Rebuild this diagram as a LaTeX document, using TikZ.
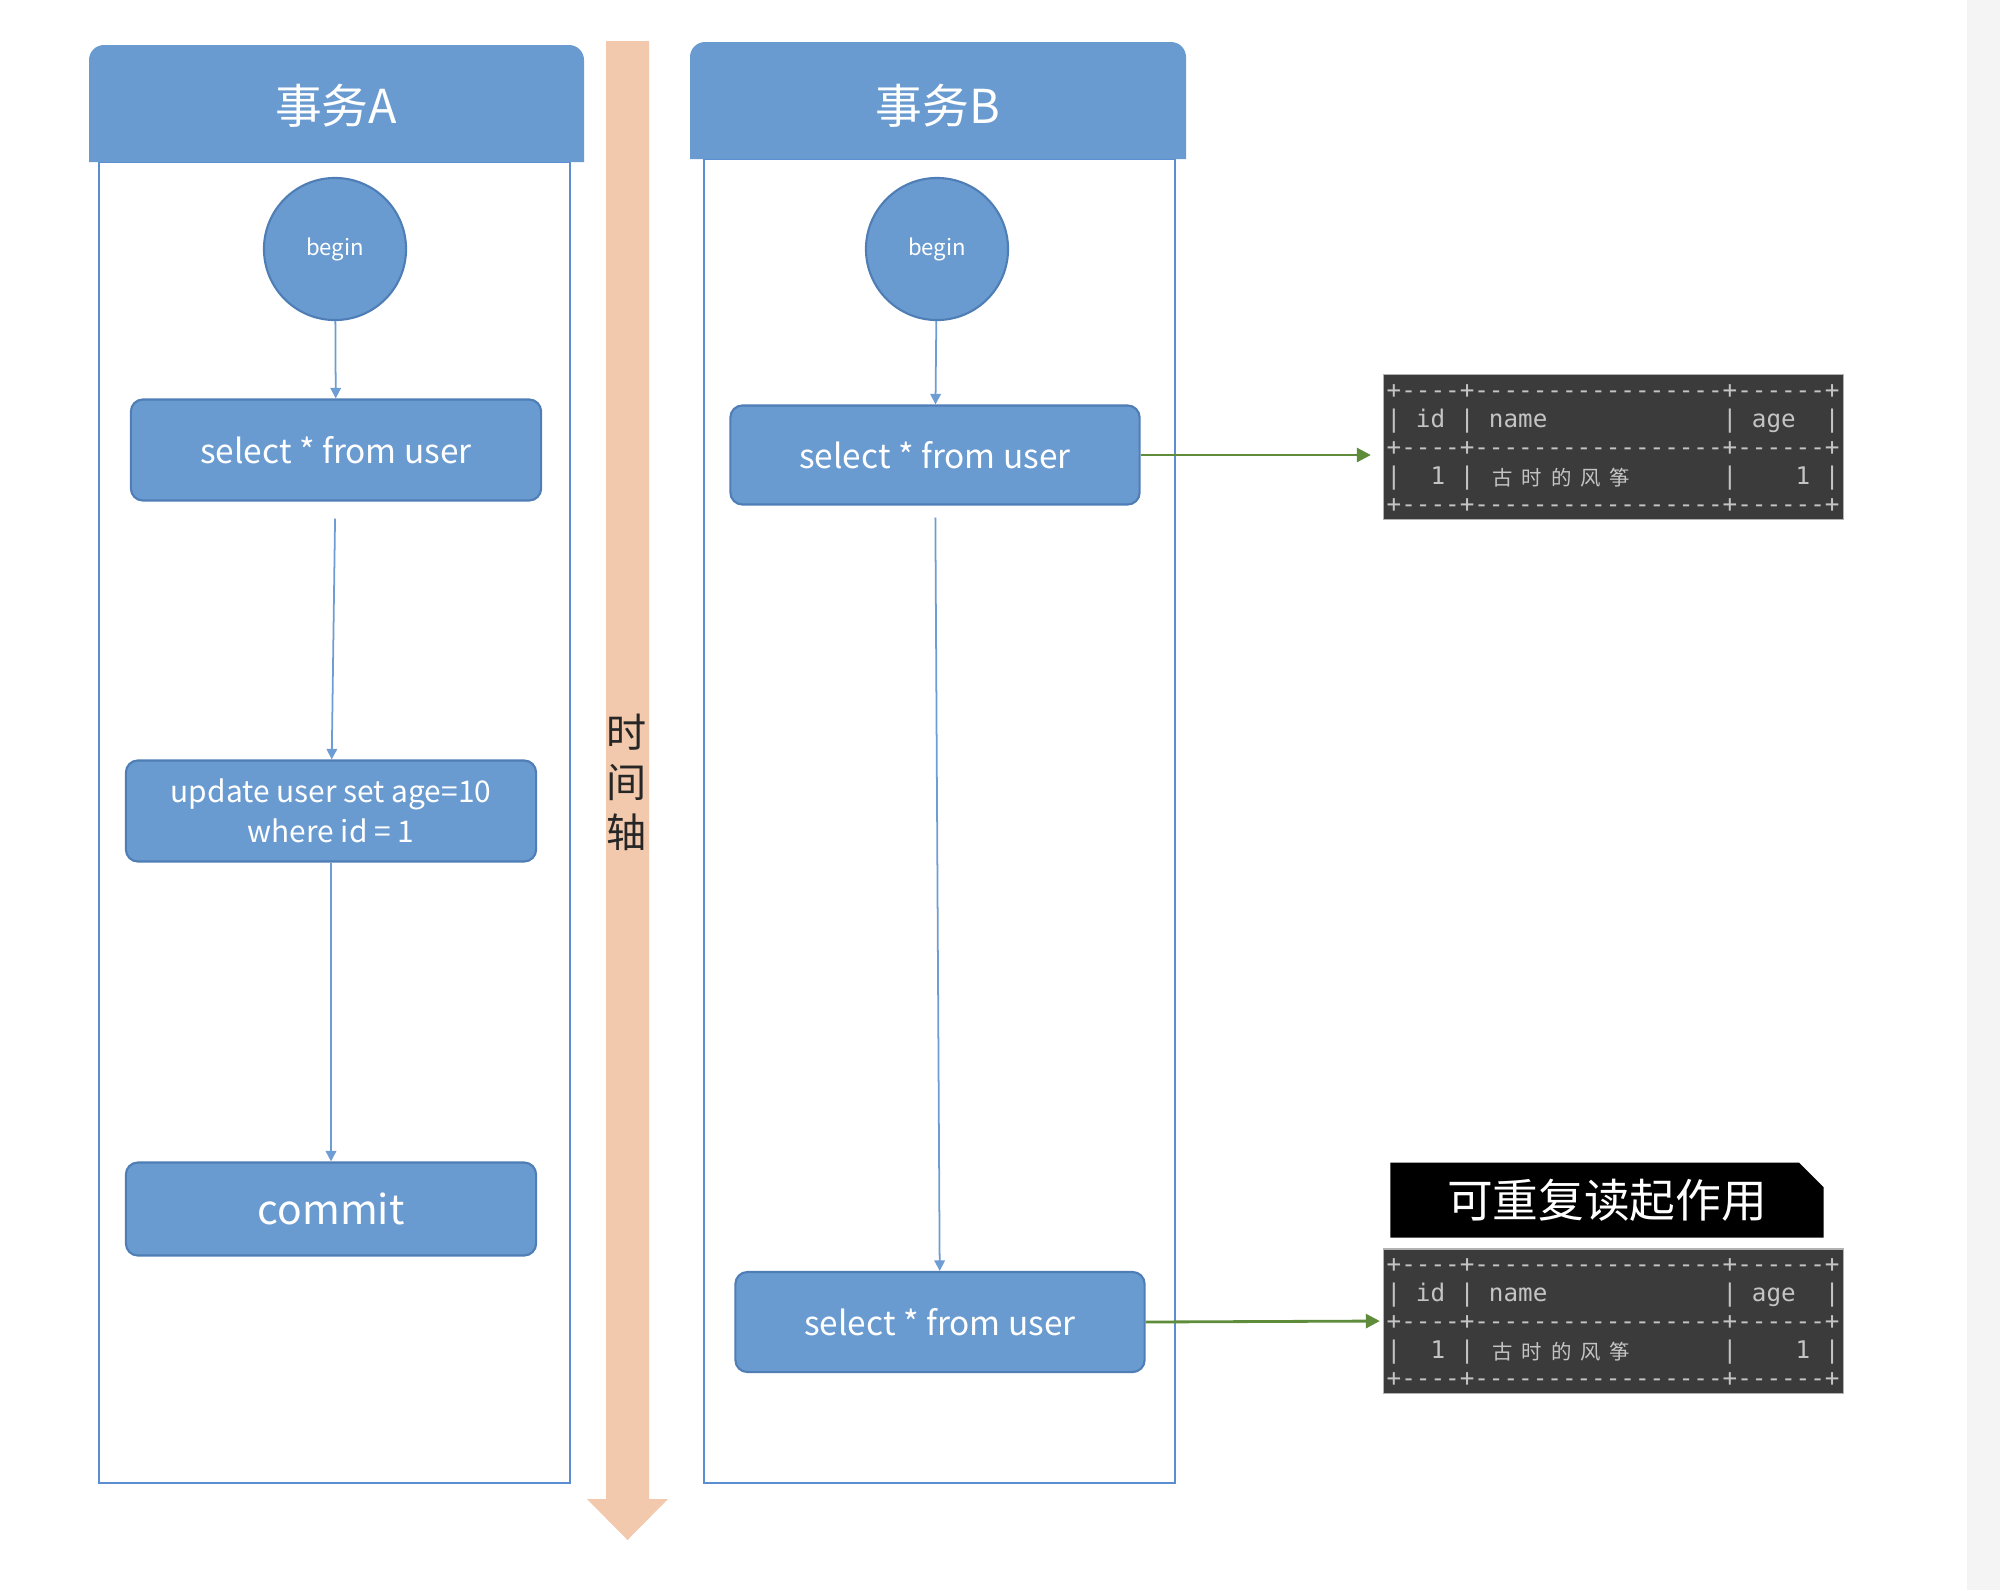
\documentclass[tikz,border=0pt]{standalone}
\usepackage{fontspec}
\setmainfont{Noto Sans CJK SC}
\setmonofont{DejaVu Sans Mono}
\usetikzlibrary{arrows.meta,shapes.misc}

\definecolor{boxblue}{HTML}{6A9BD0}
\definecolor{boxedge}{HTML}{4F7DB5}
\definecolor{laneedge}{HTML}{5B8ED0}
\definecolor{lineblue}{HTML}{6D9DD3}
\definecolor{timepeach}{HTML}{F2C9AC}
\definecolor{sqlbg}{HTML}{3B3B3B}
\definecolor{sqlgray}{HTML}{C4C4C4}
\definecolor{resgreen}{HTML}{5E8C3A}
\definecolor{stripgray}{HTML}{F4F4F4}

\begin{document}
\begin{tikzpicture}[x=0.01cm, y=-0.01cm,
   opbox/.style={draw=boxedge, fill=boxblue, rounded corners=0.12cm, text=white,
     minimum width=4.1cm, minimum height=1cm, line width=0.6pt, align=center,
     font=\fontsize{9.5}{11.3}\selectfont},
   startnode/.style={draw=boxedge, fill=boxblue, circle, minimum size=1.42cm,
     text=white, line width=0.6pt, font=\fontsize{6.3}{7}\selectfont},
   flow/.style={draw=lineblue, line width=0.5pt, -{Triangle[length=3pt,width=3pt]}},
   result/.style={draw=resgreen, line width=0.8pt, -{Triangle[length=4pt,width=4pt]}},
   sqltable/.style={fill=sqlbg, draw=gray!60, line width=0.3pt, minimum width=4.6cm,
     minimum height=1.44cm, inner sep=0},
   sqlline/.style={anchor=west, inner sep=0, text=sqlgray, font=\ttfamily\fontsize{6.9}{8}\selectfont},
   sqlcjk/.style={inner sep=0, text=sqlgray, font=\fontsize{5.8}{7}\selectfont},
   header/.style={text=white, font=\fontsize{13.3}{16}\selectfont},
]
   \useasboundingbox (0,0) rectangle (2000,1590);
   \fill[stripgray] (1967,0) rectangle (2000,1590);

   % lanes
   \draw[laneedge, line width=0.6pt] (99,162) rectangle (570,1483);
   \draw[laneedge, line width=0.6pt] (704,159) rectangle (1175,1483);
   \fill[boxblue] (89,162) [rounded corners=0.15cm] -- (89,45) -- (584,45) [sharp corners] -- (584,162) -- cycle;
   \fill[boxblue] (690,159) [rounded corners=0.15cm] -- (690,42) -- (1186,42) [sharp corners] -- (1186,159) -- cycle;
   \node[header] (hdrA) at (336,106) {事务A};
   \node[header] (hdrB) at (938,106) {事务B};

   % time axis
   \fill[timepeach] (606,41) -- (649,41) -- (649,1499) -- (668,1499) -- (627.5,1540)
      -- (587,1499) -- (606,1499) -- cycle;
   \node[align=center, text=black!85, font=\fontsize{11.4}{14.2}\selectfont] (axis) at (627,782) {时\\间\\轴};

   % transaction A
   \node[startnode] (begA) at (335,249) {begin};
   \node[opbox, minimum height=1.01cm] (selA) at (336,450) {select * from user};
   \node[opbox, minimum height=1.01cm, font=\fontsize{8.5}{11.3}\selectfont] (updA) at (331,811)
      {update user set age=10\\where id = 1};
   \node[opbox, minimum height=0.93cm, font=\fontsize{11.6}{14}\selectfont] (comA) at (331,1209) {commit};
   \draw[flow] (begA) -- (selA);
   \draw[flow, shorten <=0.17cm] (selA) -- (updA);
   \draw[flow] (updA) -- (comA);

   % transaction B
   \node[startnode] (begB) at (937,249) {begin};
   \node[opbox, minimum width=4.09cm, minimum height=0.99cm] (selB1) at (935,455) {select * from user};
   \node[opbox, minimum width=4.09cm] (selB2) at (940,1322) {select * from user};
   \draw[flow] (begB) -- (selB1);
   \draw[flow, shorten <=0.12cm] (selB1) -- (selB2);

   % query results
   \foreach \i/\ty in {1/375, 2/1249} {
      \node[sqltable] (tab\i) at (1613.5,\ty+72) {};
      \node[sqlline] (tab\i-a) at (1386,\ty+17) {+----+-----------------+------+};
      \node[sqlline] (tab\i-b) at (1386,\ty+46) {|~id~|~name~~~~~~~~~~~~|~age~~|};
      \node[sqlline] (tab\i-c) at (1386,\ty+74) {+----+-----------------+------+};
      \node[sqlline] (tab\i-d) at (1386,\ty+103) {|~~1~|};
      \foreach \c [count=\k from 0] in {古,时,的,风,筝}
         \node[sqlcjk] (tab\i-n\k) at (1386+14.6*8+29.2*\k,\ty+103) {\c};
      \node[sqlline] (tab\i-e) at (1386+14.6*23,\ty+103) {|~~~~1~|};
      \node[sqlline] (tab\i-f) at (1386,\ty+131) {+----+-----------------+------+};
   }
   \draw[result, shorten >=0.12cm] (selB1.east) -- (selB1.east -| tab1.west);
   \draw[result, shorten >=0.03cm] (selB2.east) -- (tab2.west);

   \node[chamfered rectangle, chamfered rectangle corners=north east, chamfered rectangle xsep=3.4pt,
      fill=black, text=white, minimum width=4.33cm, minimum height=0.75cm, inner sep=0,
      font=\fontsize{13}{15}\selectfont] (rrnote) at (1607,1200) {可重复读起作用};
\end{tikzpicture}
\end{document}
